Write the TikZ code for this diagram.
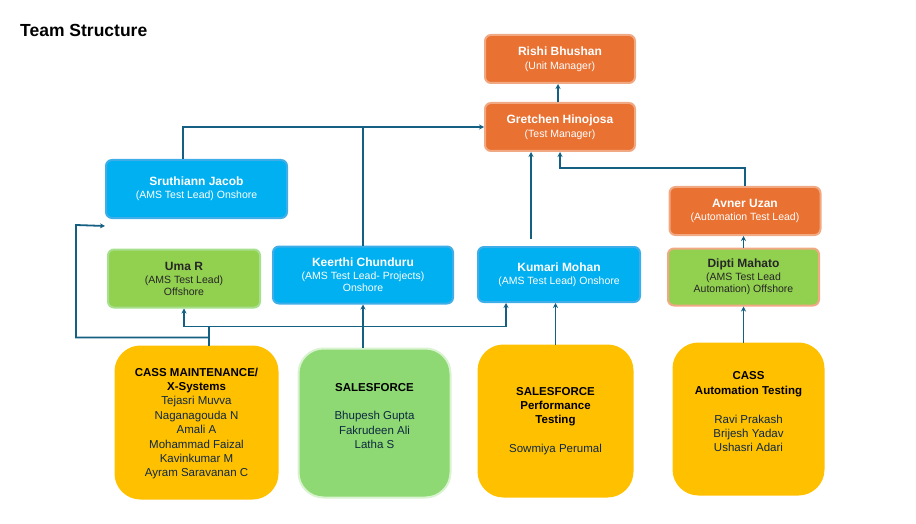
\documentclass[tikz,border=0pt]{standalone}
\usepackage{fontspec}
\setmainfont{Liberation Sans}
\usetikzlibrary{arrows.meta}
\definecolor{mgrorange}{HTML}{E97132}
\definecolor{mgredge}{HTML}{F1A983}
\definecolor{leadblue}{HTML}{00B0F0}
\definecolor{leadedge}{HTML}{3FAEE8}
\definecolor{offgreen}{HTML}{92D050}
\definecolor{offedge}{HTML}{A6E08C}
\definecolor{sfgreen}{HTML}{8ED973}
\definecolor{sfedge}{HTML}{D9F2D0}
\definecolor{teamgold}{HTML}{FFC000}
\definecolor{linkblue}{HTML}{156082}
\definecolor{namenavy}{HTML}{0E2841}
\newcommand{\pname}[1]{{\fontsize{12}{13}\selectfont\bfseries #1}}
\newcommand{\thead}[1]{{\color{black}\bfseries #1}}
\begin{document}
\begin{tikzpicture}[x=1pt,y=-1pt,
	lead/.style={draw=#1,line width=2pt,rounded corners=6pt,align=center,
		font=\fontsize{10.5}{12}\selectfont,inner sep=0pt},
	mgr/.style={lead=mgredge,fill=mgrorange,text=white},
	onsh/.style={lead=leadedge,fill=leadblue,text=white},
	offsh/.style={lead=#1,fill=offgreen,text=black!85},
	team/.style={draw=#1,line width=2pt,rounded corners=25pt,align=center,
		font=\fontsize{11.5}{14.4}\selectfont,text=namenavy,inner sep=0pt},
	link/.style={draw=linkblue,line width=1.8pt},
	arr/.style={link,-{Stealth[length=5pt,width=5pt]}}]
	\useasboundingbox (0,0) rectangle (916,524);
	\node[anchor=west,inner sep=0pt,font=\fontsize{17.5}{20}\selectfont\bfseries] (title) at (20,30) {Team Structure};
	\node[mgr,minimum width=150,minimum height=48] (rishi) at (560,59) {\pname{Rishi Bhushan}\\[1.5pt](Unit Manager)};
	\node[mgr,minimum width=150,minimum height=48] (gretchen) at (560,127) {\pname{Gretchen Hinojosa}\\[1.5pt](Test Manager)};
	\node[onsh,minimum width=181,minimum height=58] (sruthiann) at (196.5,189) {\pname{Sruthiann Jacob}\\[1pt](AMS Test Lead) Onshore};
	\node[offsh=offedge,minimum width=152,minimum height=58] (uma) at (184,278.5) {\pname{Uma R}\\[1pt](AMS Test Lead)\\Offshore};
	\node[onsh,minimum width=180,minimum height=57] (keerthi) at (363,275) {\pname{Keerthi Chunduru}\\[1pt](AMS Test Lead- Projects)\\Onshore};
	\node[onsh,minimum width=162,minimum height=55] (kumari) at (559,274.5) {\pname{Kumari Mohan}\\[1pt](AMS Test Lead) Onshore};
	\node[mgr,minimum width=151,minimum height=48] (avner) at (745,211) {\pname{Avner Uzan}\\[1.5pt](Automation Test Lead)};
	\node[offsh=mgredge,minimum width=151,minimum height=57] (dipti) at (743.5,277) {\pname{Dipti Mahato}\\[1pt](AMS Test Lead\\Automation) Offshore};
	\node[team=teamgold,fill=teamgold,minimum width=162,minimum height=152] (cassmaint) at (196.5,422.5)
		{~\\[-4pt]\thead{CASS MAINTENANCE/}\\\thead{X-Systems}\\Tejasri Muvva\\Naganagouda N\\Amali A\\Mohammad Faizal\\Kavinkumar M\\Ayram Saravanan C};
	\node[team=sfedge,fill=sfgreen,minimum width=152,minimum height=149] (salesforce) at (374.5,423)
		{\thead{SALESFORCE}\\~\\Bhupesh Gupta\\Fakrudeen Ali\\Latha S\\~};
	\node[team=teamgold,fill=teamgold,minimum width=154,minimum height=151] (sfperf) at (555.5,421)
		{\thead{SALESFORCE}\\\thead{Performance}\\\thead{Testing}\\~\\Sowmiya Perumal};
	\node[team=teamgold,fill=teamgold,minimum width=150,minimum height=151] (cassauto) at (748.5,419)
		{\thead{CASS}\\\thead{Automation Testing}\\~\\Ravi Prakash\\Brijesh Yadav\\Ushasri Adari\\~};
	\draw[arr] ([xshift=-2]gretchen.north) -- ([xshift=-2]rishi.south);
	\draw[arr] ([xshift=-13.5]sruthiann.north) |- (gretchen.west);
	\draw[link] (keerthi.north) -- (keerthi.north |- gretchen.west);
	\draw[arr] ([xshift=-28,yshift=7]kumari.north) -- ([xshift=-28]kumari.north |- gretchen.south);
	\draw[arr] (avner.north) -- ++(0,-18) -| (gretchen.south);
	\draw[arr] (dipti.north) -- (dipti.north |- avner.south);
	\draw[arr] (cassauto.north -| dipti.south) -- (dipti.south);
	\draw[arr] (sfperf.north) -- (sfperf.north |- kumari.south);
	\draw[arr] (keerthi.south |- salesforce.north) -- (keerthi.south);
	\coordinate (cmtop) at ([xshift=12.5]cassmaint.north);
	\draw[link] (cmtop) -- ++(0,-19) coordinate (cmsplit);
	\draw[arr] (cmsplit) -| (uma.south);
	\draw[arr] (cmsplit) -| ([xshift=-53]kumari.south);
	\draw[arr] ([yshift=8]cmtop) -| (76,225) -- ([yshift=-7]sruthiann.south west);
\end{tikzpicture}
\end{document}
